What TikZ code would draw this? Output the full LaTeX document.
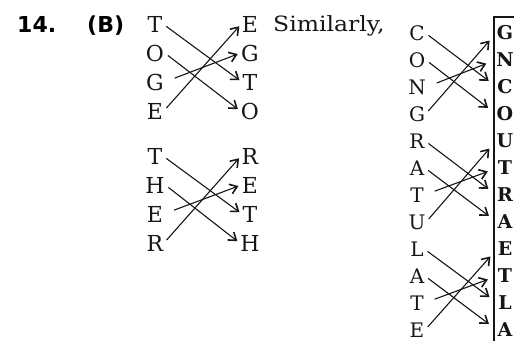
\documentclass[tikz,border=0pt]{standalone}
\usepackage{fontspec}
\setmainfont{DejaVu Serif}
\newfontfamily\headfont{DejaVu Sans}
\newfontfamily\widefont[FakeStretch=1.12]{DejaVu Serif}
\usetikzlibrary{arrows.meta}
\definecolor{ink}{HTML}{161616}

\begin{document}
\begin{tikzpicture}[x=1pt, y=-1pt, font=\fontsize{22}{26}\selectfont,
    letter/.style={inner sep=0.5pt, text=ink},
    small/.style={letter, font=\fontsize{20}{24}\selectfont},
    code/.style={letter, font=\fontsize{19}{22}\selectfont\bfseries},
    link/.style={-{Straight Barb[length=7pt,width=10pt,line width=1.6pt]}, line width=1.1pt, ink, shorten <=4pt, shorten >=3pt},
    late/.style={shorten <=11pt}]
  \useasboundingbox (0,0) rectangle (514,341);

  \node[anchor=base west, inner sep=0pt, font=\headfont\bfseries\fontsize{22}{26}\selectfont] (num) at (17,32) {14.};
  \node[anchor=base west, inner sep=0pt, font=\headfont\bfseries\fontsize{22}{26}\selectfont] (opt) at (87,32) {(B)};
  \node[anchor=base west, inner sep=0pt, text=ink, font=\widefont\fontsize{21}{24}\selectfont] (sim) at (273,31) {Similarly,};

  % TOGE -> EGTO
  \foreach \l [count=\i] in {T,O,G,E}
    \node[letter] (a\i) at (155,{24+29*(\i-1)}) {\l};
  \foreach \l [count=\i] in {E,G,T,O}
    \node[letter] (b\i) at (250,{24+29*(\i-1)}) {\l};
  \draw[link] (a1.east) -- (b3.west);
  \draw[link] (a2.east) -- (b4.west);
  \draw[link, late] (a3.east) -- (b2.west);
  \draw[link] (a4.east) -- (b1.west);

  % THER -> RETH
  \foreach \l [count=\i] in {T,H,E,R}
    \node[letter] (c\i) at (155,{156+29*(\i-1)}) {\l};
  \foreach \l [count=\i] in {R,E,T,H}
    \node[letter] (d\i) at (250,{156+29*(\i-1)}) {\l};
  \draw[link] (c1.east) -- (d3.west);
  \draw[link] (c2.east) -- (d4.west);
  \draw[link, late] (c3.east) -- (d2.west);
  \draw[link] (c4.east) -- (d1.west);

  % CONGRATULATE
  \foreach \l [count=\i] in {C,O,N,G,R,A,T,U,L,A,T,E}
    \node[small] (p\i) at (417,{33+27*(\i-1)}) {\l};
  \foreach \l [count=\i] in {G,N,C,O,U,T,R,A,E,T,L,A}
    \node[code] (q\i) at (505,{33+27*(\i-1)}) {\l};
  \coordinate (boxtop) at (494,17);
  \draw[line width=1.2pt, ink] (494,341) -- (boxtop) -- (514,17);
  \foreach \k in {0,4,8} {
    \pgfmathtruncatemacro\ia{\k+1}
    \pgfmathtruncatemacro\ib{\k+2}
    \pgfmathtruncatemacro\ic{\k+3}
    \pgfmathtruncatemacro\id{\k+4}
    \draw[link, shorten >=10pt] (p\ia.east) -- (q\ic.west);
    \draw[link, shorten >=10pt] (p\ib.east) -- (q\id.west);
    \draw[link, late, shorten >=10pt] (p\ic.east) -- (q\ib.west);
    \draw[link, shorten >=10pt] (p\id.east) -- (q\ia.west);
  }
\end{tikzpicture}
\end{document}
